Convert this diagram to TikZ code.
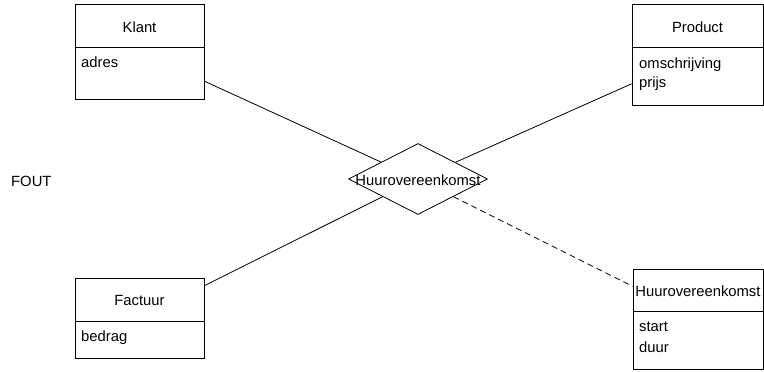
\documentclass[tikz,border=0pt]{standalone}
\usepackage{fontspec}
\setmainfont{Liberation Sans}
\usetikzlibrary{shapes.geometric}
\begin{document}
\begin{tikzpicture}[x=1pt,y=-1pt,
  every node/.style={font=\fontsize{14.8}{17}\selectfont},
  entity/.style={draw, line width=0.8pt, rectangle, inner sep=0pt},
  rel/.style={draw, line width=0.8pt, diamond, inner sep=0pt},
  conn/.style={line width=0.8pt},
  divider/.style={line width=0.8pt},
  title/.style={anchor=base, inner sep=0pt},
  attr/.style={anchor=base west, inner sep=0pt}]
\useasboundingbox (0,0) rectangle (764,372);

% entities
\node[entity, minimum width=129pt, minimum height=95pt] (klant) at (139.5,51.5) {};
\node[entity, minimum width=131pt, minimum height=101pt] (product) at (697.5,54.5) {};
\node[entity, minimum width=129pt, minimum height=80pt] (factuur) at (139.5,318) {};
\node[entity, minimum width=130pt, minimum height=100pt] (huur) at (698,319) {};

% dividers
\draw[divider] (klant.west |- 0,47) -- (klant.east |- 0,47);
\draw[divider] (product.west |- 0,47) -- (product.east |- 0,47);
\draw[divider] (factuur.west |- 0,321) -- (factuur.east |- 0,321);
\draw[divider] (huur.west |- 0,311) -- (huur.east |- 0,311);

% titles
\node[title] (klantT) at (139.5,32) {Klant};
\node[title] (productT) at (697.5,32) {Product};
\node[title] (factuurT) at (139.5,305) {Factuur};
\node[title] (huurT) at (698,296) {Huurovereenkomst};

% attributes
\node[attr] (adres) at (81,67) {adres};
\node[attr] (omschr) at (639,68) {omschrijving};
\node[attr] (prijs) at (639,87.5) {prijs};
\node[attr] (bedrag) at (81,341) {bedrag};
\node[attr] (start) at (639,331) {start};
\node[attr] (duur) at (639,352) {duur};

% relationship
\node[rel, minimum width=139pt, minimum height=71pt] (relatie) at (418,179) {};
\node[title] (relT) at (418,185) {Huurovereenkomst};

% label
\node[attr] (fout) at (11,186) {FOUT};

% connectors
\draw[conn] (relatie) -- (klant);
\draw[conn] (relatie) -- (product);
\draw[conn] (relatie) -- (factuur);
\draw[conn, dashed, dash pattern=on 6pt off 4pt] (relatie) -- (huur);
\end{tikzpicture}
\end{document}
